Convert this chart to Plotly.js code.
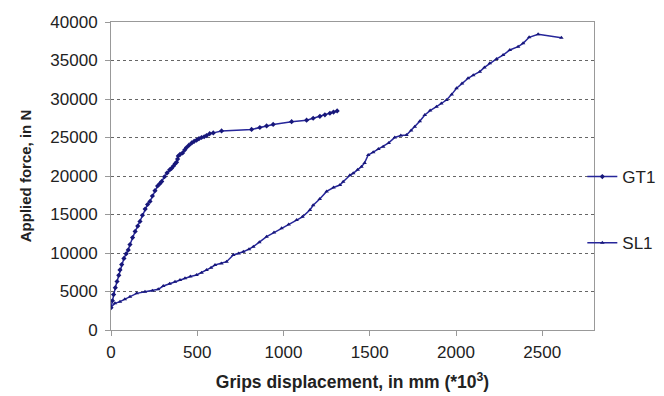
<!DOCTYPE html>
<html>
<head>
<meta charset="utf-8">
<script src="https://cdn.plot.ly/plotly-3.0.1.min.js"></script>
<style>html,body{margin:0;padding:0;background:#fff;}#chart{width:664px;height:396px;}</style>
</head>
<body>
<div id="chart"></div>
<script>
const gt1X = [0, 8, 15, 25, 35, 45, 52, 62, 75, 88, 100, 110, 125, 140, 155, 168, 182, 198, 212, 226, 240, 255, 270, 283, 294, 310, 325, 340, 351, 362, 372, 380, 386, 390, 400, 415, 428, 438, 452, 468, 482, 496, 510, 525, 540, 554, 572, 593, 641, 815, 863, 902, 940, 1047, 1134, 1172, 1211, 1240, 1269, 1290, 1311];
const gt1Y = [2900, 3800, 4600, 5500, 6300, 7100, 7800, 8500, 9300, 9900, 10400, 11100, 12000, 12800, 13500, 14100, 14900, 15700, 16300, 16700, 17400, 18100, 18700, 19000, 19300, 19900, 20400, 20800, 21000, 21300, 21600, 21800, 22200, 22600, 22800, 23000, 23400, 23700, 24000, 24300, 24500, 24650, 24850, 25000, 25100, 25250, 25500, 25600, 25850, 26050, 26300, 26500, 26700, 27050, 27250, 27500, 27750, 27950, 28150, 28300, 28450];
const sl1X = [0, 23, 52, 80, 110, 149, 197, 240, 274, 303, 340, 371, 400, 429, 460, 496, 525, 554, 580, 603, 640, 670, 709, 740, 767, 800, 825, 860, 902, 945, 989, 1030, 1076, 1110, 1153, 1172, 1210, 1250, 1290, 1327, 1346, 1385, 1404, 1430, 1452, 1470, 1491, 1520, 1550, 1578, 1610, 1645, 1680, 1713, 1740, 1761, 1790, 1819, 1850, 1887, 1915, 1945, 1975, 2003, 2035, 2070, 2100, 2138, 2165, 2196, 2235, 2273, 2312, 2360, 2389, 2424, 2476, 2611];
const sl1Y = [3000, 3460, 3680, 4000, 4330, 4760, 4980, 5100, 5280, 5710, 6000, 6280, 6500, 6710, 6950, 7140, 7450, 7790, 8100, 8440, 8650, 8870, 9740, 9950, 10170, 10500, 10820, 11400, 12120, 12650, 13200, 13700, 14290, 14700, 15580, 16200, 17000, 18000, 18500, 18830, 19260, 20100, 20350, 20800, 21210, 21700, 22730, 23100, 23500, 23800, 24300, 25000, 25250, 25320, 25900, 26400, 27100, 27920, 28500, 29000, 29400, 29870, 30600, 31390, 32000, 32690, 33100, 33550, 34100, 34640, 35200, 35710, 36360, 36800, 37230, 38010, 38400, 37960];
const xTicks = [0, 500, 1000, 1500, 2000, 2500];

const navy = '#26269a';
const fam = 'Liberation Sans, Arial, sans-serif';
const tickFont = {family: fam, size: 17, color: '#222'};

const data = [
  {x: gt1X, y: gt1Y, name: 'GT1', type: 'scatter', mode: 'lines+markers',
   line: {color: navy, width: 1.5}, marker: {symbol: 'diamond', size: 4, color: '#17177a'}, legend: 'legend'},
  {x: sl1X, y: sl1Y, name: 'SL1', type: 'scatter', mode: 'lines+markers',
   line: {color: navy, width: 1.5}, marker: {symbol: 'triangle-up', size: 4, color: '#17177a'}, legend: 'legend2'}
];

const layout = {
  width: 664, height: 396,
  margin: {l: 111, r: 70, t: 22, b: 66, autoexpand: false},
  paper_bgcolor: '#fff', plot_bgcolor: '#fff',
  showlegend: true,
  xaxis: {
    range: [0, 2800], tickvals: xTicks, tickformat: 'd', automargin: false,
    showgrid: false, zeroline: false,
    showline: true, linecolor: '#999', linewidth: 1, mirror: true,
    ticks: 'outside', ticklen: 5, tickcolor: '#999', ticklabelstandoff: 2,
    tickfont: tickFont,
    title: {text: 'Grips displacement, in mm (*10<sup>3</sup>)', font: {family: fam, size: 17.5, color: '#222', weight: 'bold'}, standoff: 14}
  },
  yaxis: {
    range: [0, 40000], dtick: 5000, tickformat: 'd', automargin: false,
    showgrid: true, gridcolor: '#666', griddash: 'dot', gridwidth: 1,
    zeroline: false,
    showline: true, linecolor: '#999', linewidth: 1, mirror: true,
    ticks: 'outside', ticklen: 5, tickcolor: '#999', ticklabelstandoff: 4,
    tickfont: tickFont,
    title: {text: 'Applied force, in N', font: {family: fam, size: 15, color: '#222', weight: 'bold'}, standoff: 15}
  },
  legend: {xref: 'container', yref: 'container', x: 0.877, xanchor: 'left', y: 0.553, yanchor: 'middle', bgcolor: 'rgba(0,0,0,0)',
           font: {family: fam, size: 17, color: '#222'}, itemwidth: 30},
  legend2: {xref: 'container', yref: 'container', x: 0.877, xanchor: 'left', y: 0.386, yanchor: 'middle', bgcolor: 'rgba(0,0,0,0)',
           font: {family: fam, size: 17, color: '#222'}, itemwidth: 30}
};

Plotly.newPlot('chart', data, layout, {displayModeBar: false, staticPlot: true});
</script>
</body>
</html>
